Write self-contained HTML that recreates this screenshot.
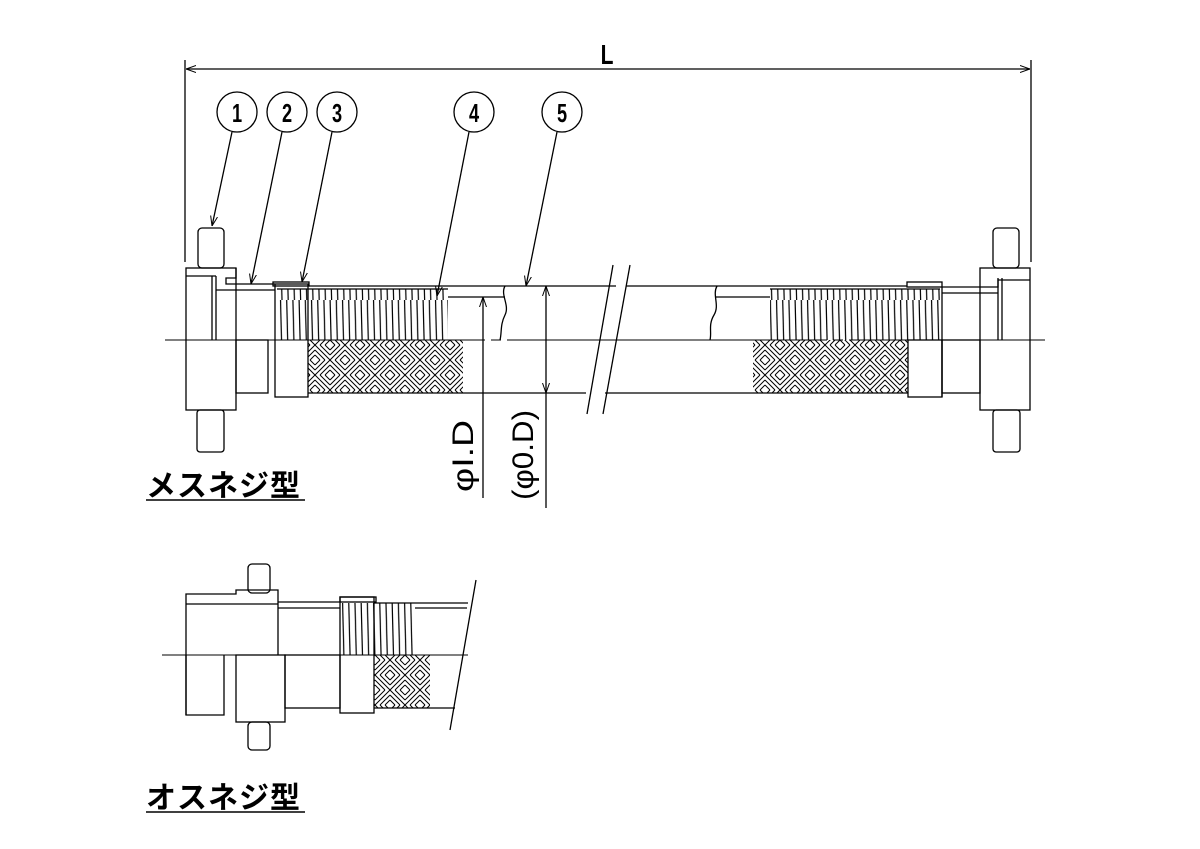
<!DOCTYPE html>
<html><head><meta charset="utf-8"><style>
html,body{margin:0;padding:0;background:#fff;}
svg{display:block;}
text{font-family:"Liberation Sans","Noto Sans CJK JP",sans-serif;}
</style></head><body>
<svg width="1200" height="849" viewBox="0 0 1200 849" xmlns="http://www.w3.org/2000/svg">
<defs>
<pattern id="corr" width="6.2" height="60" patternUnits="userSpaceOnUse">
<line x1="1.5" y1="0" x2="3" y2="60" stroke="#000" stroke-width="1.2"/>
</pattern>
<pattern id="braid" width="30" height="30" patternUnits="userSpaceOnUse">
<g stroke="#000" stroke-width="1">
<line x1="0" y1="0" x2="15" y2="15"/><line x1="0" y1="5" x2="10" y2="15"/><line x1="5" y1="0" x2="15" y2="10"/><line x1="0" y1="10" x2="5" y2="15"/><line x1="10" y1="0" x2="15" y2="5"/>
<line x1="15" y1="15" x2="30" y2="30"/><line x1="15" y1="20" x2="25" y2="30"/><line x1="20" y1="15" x2="30" y2="25"/><line x1="15" y1="25" x2="20" y2="30"/><line x1="25" y1="15" x2="30" y2="20"/>
<line x1="30" y1="0" x2="15" y2="15"/><line x1="25" y1="0" x2="15" y2="10"/><line x1="30" y1="5" x2="20" y2="15"/><line x1="20" y1="0" x2="15" y2="5"/><line x1="30" y1="10" x2="25" y2="15"/>
<line x1="15" y1="15" x2="0" y2="30"/><line x1="10" y1="15" x2="0" y2="25"/><line x1="15" y1="20" x2="5" y2="30"/><line x1="5" y1="15" x2="0" y2="20"/><line x1="15" y1="25" x2="10" y2="30"/>
</g>
</pattern>
<marker id="ar" viewBox="0 0 10 10" refX="10" refY="5" markerWidth="10" markerHeight="10" orient="auto-start-reverse" markerUnits="userSpaceOnUse"><path d="M0,1.5 L10,5 L0,8.5" fill="none" stroke="#000" stroke-width="1"/></marker>
</defs>
<g fill="none" stroke="#000" stroke-width="1.3">
<line x1="185" y1="60" x2="185" y2="262"/>
<line x1="1031" y1="60" x2="1031" y2="262"/>
<line x1="186" y1="69" x2="1030" y2="69" marker-start="url(#ar)" marker-end="url(#ar)"/>
<circle cx="237" cy="112" r="20"/><circle cx="287" cy="112" r="20"/><circle cx="337" cy="112" r="20"/><circle cx="474" cy="112" r="20"/><circle cx="562" cy="112" r="20"/>
<line x1="232" y1="132" x2="212" y2="226" marker-end="url(#ar)"/>
<line x1="282" y1="132" x2="251" y2="284" marker-end="url(#ar)"/>
<line x1="332" y1="132" x2="302" y2="282" marker-end="url(#ar)"/>
<line x1="469" y1="132" x2="437" y2="296" marker-end="url(#ar)"/>
<line x1="557" y1="132" x2="526" y2="286" marker-end="url(#ar)"/>

<line x1="165" y1="340" x2="1045" y2="340" stroke-width="1" stroke-dasharray="320,6,10,6"/>

<rect x="198" y="228" width="26" height="40" rx="4"/>
<rect x="197" y="410" width="27" height="42" rx="3"/>
<rect x="186" y="268" width="50" height="142"/>
<line x1="186" y1="276" x2="216" y2="276"/>
<line x1="216" y1="276" x2="216" y2="340"/><line x1="212" y1="276" x2="212" y2="340"/>
<polyline points="236,268 236,278 226,278 226,284 275,284"/>
<line x1="216" y1="290" x2="275" y2="290"/>
<rect x="236" y="340" width="32" height="53"/>
<rect x="275" y="284" width="33" height="113"/>
<rect x="273" y="282" width="36" height="4"/>
<rect x="277" y="289" width="171" height="51" fill="url(#corr)" stroke="none"/>
<line x1="277" y1="289" x2="448" y2="289"/>
<rect x="308" y="340" width="155" height="53" fill="url(#braid)" stroke="none"/>
<line x1="308" y1="393" x2="586" y2="393"/>
<line x1="309" y1="286" x2="616" y2="286"/>
<line x1="448" y1="297" x2="505" y2="297"/>
<path d="M505,286 C500,295 510,305 505,315 C500,325 502,332 500,340"/>

<line x1="613" y1="265" x2="587" y2="414"/>
<line x1="630" y1="265" x2="603" y2="414"/>
<line x1="626" y1="286" x2="907" y2="286"/>
<line x1="605" y1="393" x2="908" y2="393"/>

<line x1="715" y1="297" x2="770" y2="297"/>
<path d="M717,286 C712,295 720,305 714,315 C708,325 712,332 710,340"/>
<rect x="770" y="289" width="170" height="51" fill="url(#corr)" stroke="none"/>
<line x1="770" y1="289" x2="940" y2="289"/>
<rect x="753" y="340" width="155" height="53" fill="url(#braid)" stroke="none"/>
<rect x="907" y="282" width="35" height="5"/>
<rect x="908" y="340" width="34" height="57"/>
<line x1="942" y1="287" x2="942" y2="397"/>
<polyline points="942,287 998,287 998,280 1030,280"/>
<line x1="942" y1="293" x2="998" y2="293"/>
<rect x="942" y="340" width="38" height="53"/>
<rect x="980" y="268" width="50" height="142"/>
<line x1="998" y1="278" x2="998" y2="340"/><line x1="1002" y1="278" x2="1002" y2="340"/>
<rect x="993" y="228" width="26" height="40" rx="4"/>
<rect x="993" y="410" width="27" height="42" rx="3"/>

<line x1="483" y1="498" x2="483" y2="297" marker-end="url(#ar)"/>
<line x1="546" y1="508" x2="546" y2="393"/>
<line x1="546" y1="286" x2="546" y2="393" marker-start="url(#ar)" marker-end="url(#ar)"/>

<line x1="162" y1="655" x2="468" y2="655" stroke-width="1" stroke-dasharray="150,6,10,6"/>
<rect x="248" y="564" width="22" height="29" rx="4"/>
<rect x="248" y="722" width="22" height="28" rx="4"/>
<polyline points="186,715 186,594 224,594 236,594 236,590 278,590 278,655"/>
<line x1="186" y1="604" x2="278" y2="604"/>
<polyline points="186,655 186,715 224,715 224,655"/>
<rect x="236" y="655" width="49" height="67"/>
<line x1="278" y1="602" x2="340" y2="602"/><line x1="278" y1="608" x2="340" y2="608"/>
<rect x="285" y="655" width="55" height="53"/>
<rect x="340" y="597" width="34" height="116"/>
<rect x="340" y="597" width="36" height="5"/>
<rect x="342" y="603" width="73" height="52" fill="url(#corr)" stroke="none"/>
<rect x="374" y="655" width="56" height="53" fill="url(#braid)" stroke="none"/>
<line x1="374" y1="603" x2="468" y2="603"/>
<line x1="415" y1="608" x2="467" y2="608"/>
<line x1="374" y1="708" x2="455" y2="708"/>
<line x1="476" y1="580" x2="450" y2="730"/>
</g>

<text transform="translate(607,64) scale(0.75,1)" font-size="28" font-weight="bold" text-anchor="middle">L</text>
<g font-size="26" font-weight="bold" text-anchor="middle">
<text transform="translate(237,122) scale(0.7,1)">1</text><text transform="translate(287,122) scale(0.7,1)">2</text><text transform="translate(337,122) scale(0.7,1)">3</text><text transform="translate(474,122) scale(0.7,1)">4</text><text transform="translate(562,122) scale(0.7,1)">5</text>
</g>
<text transform="translate(473,456) rotate(-90)" font-size="30" text-anchor="middle" textLength="72" lengthAdjust="spacingAndGlyphs">φI.D</text>
<text transform="translate(533,455) rotate(-90)" font-size="30" text-anchor="middle" textLength="90" lengthAdjust="spacingAndGlyphs">(φ0.D)</text>
<text x="146" y="496" font-size="30" font-weight="bold" letter-spacing="1">メスネジ型</text>
<line x1="146" y1="500" x2="305" y2="500" stroke="#000" stroke-width="1.5"/>
<text x="146" y="808" font-size="30" font-weight="bold" letter-spacing="1">オスネジ型</text>
<line x1="146" y1="812" x2="305" y2="812" stroke="#000" stroke-width="1.5"/>
</svg>
</body></html>
